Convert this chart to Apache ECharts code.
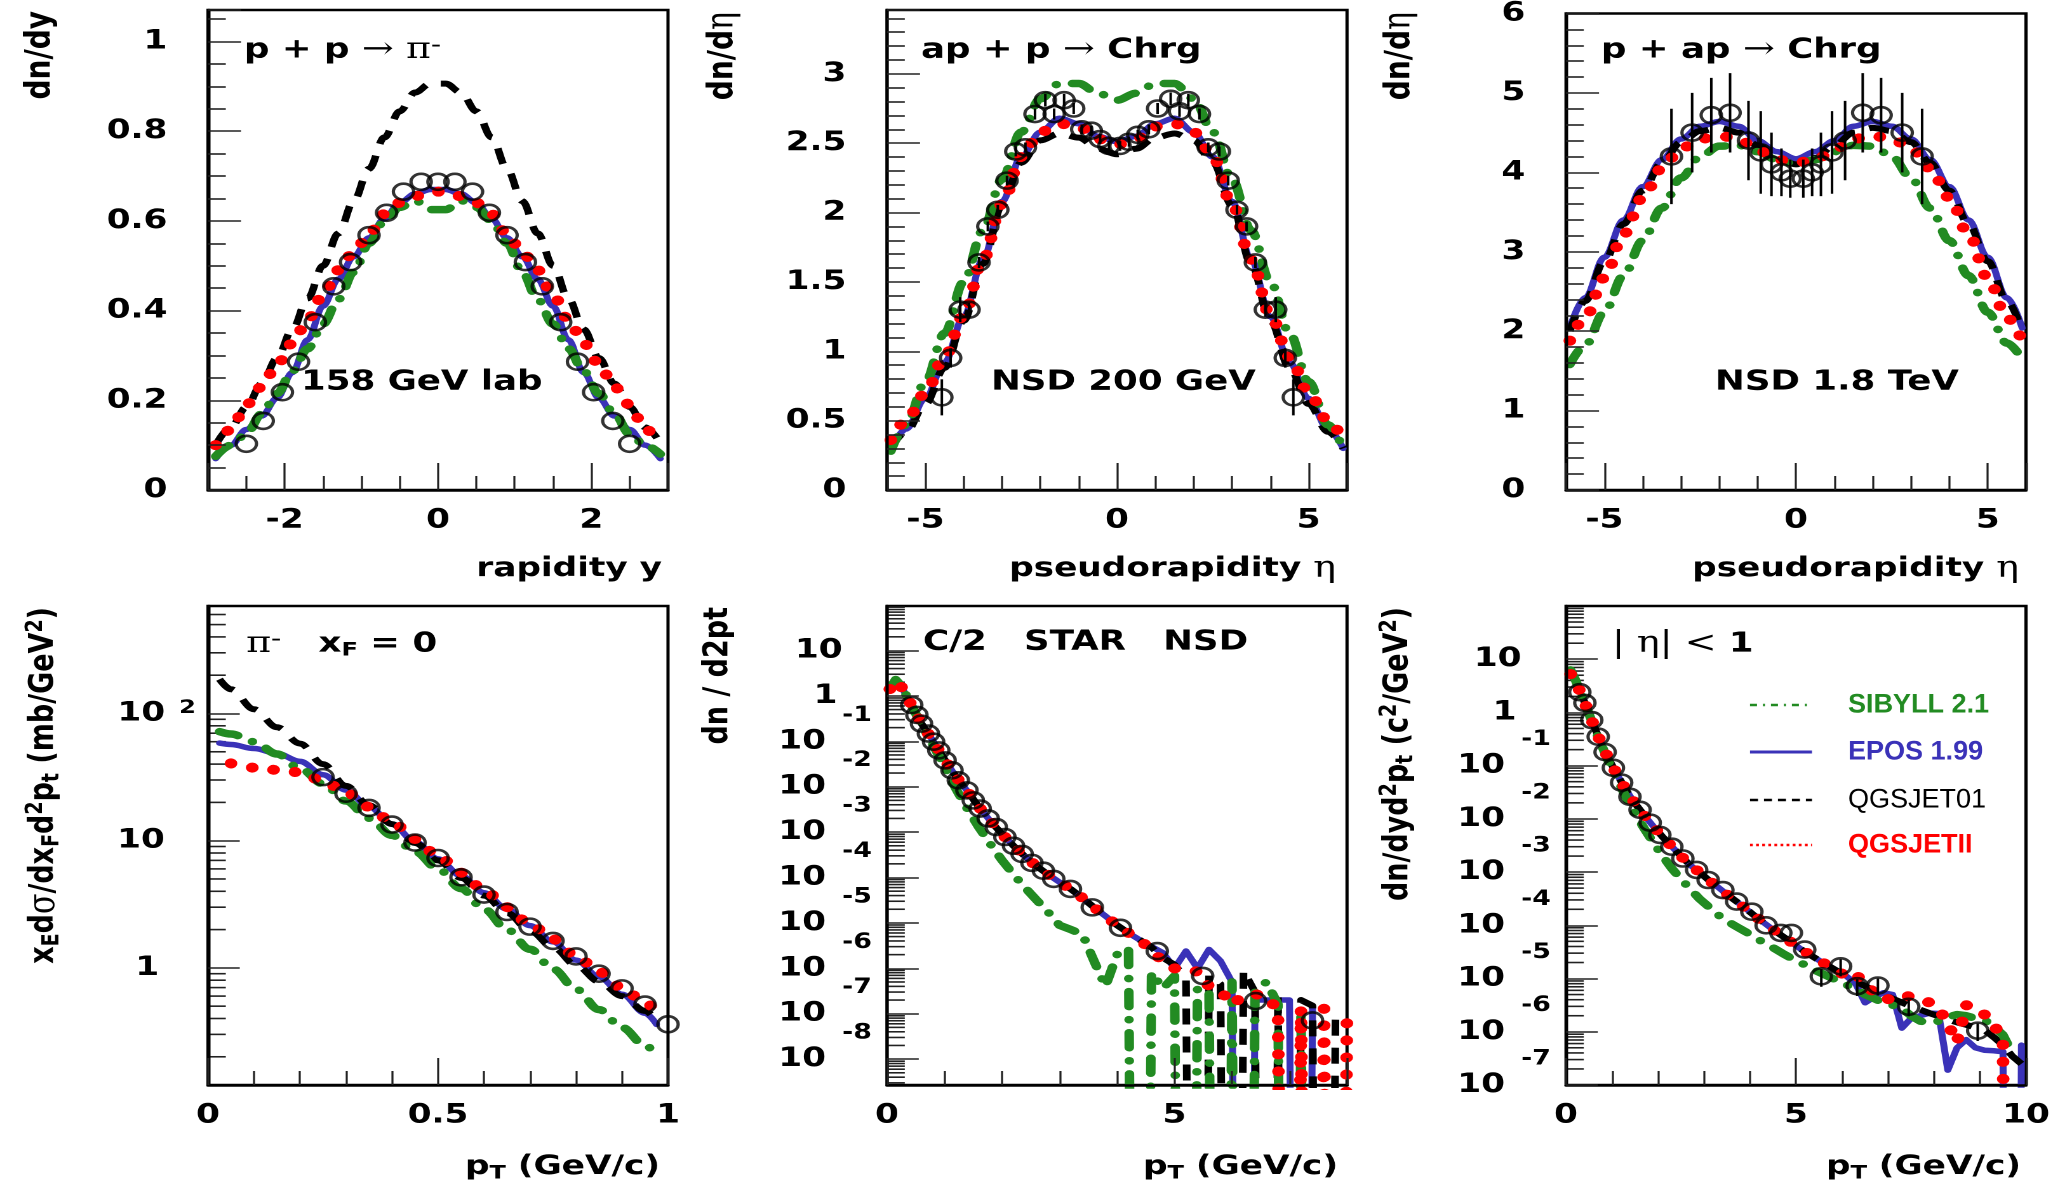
<!DOCTYPE html>
<html><head><meta charset="utf-8">
<script src="https://cdn.jsdelivr.net/npm/echarts@6/dist/echarts.min.js"></script>
<style>
html,body{margin:0;padding:0;background:#fff;overflow:hidden;}
#wrap{width:2056px;height:1186px;overflow:hidden;position:relative;}
#c{height:1186px;transform-origin:0 0;}
</style></head><body><div id="wrap"><div id="c"></div></div>
<script>
// ================= DATA =================
const modelNames = ['SIBYLL 2.1', 'EPOS 1.99', 'QGSJET01', 'QGSJETII'];

// --- Top-left: p + p -> pi-, 158 GeV lab, dn/dy vs rapidity y
const tlDataX = [-2.5,-2.28,-2.03,-1.82,-1.6,-1.36,-1.14,-0.9,-0.67,-0.45,-0.22,0,0.22,0.45,0.67,0.9,1.14,1.36,1.6,1.82,2.03,2.28,2.5];
const tlDataY = [0.103,0.154,0.218,0.286,0.374,0.454,0.508,0.568,0.618,0.665,0.687,0.687,0.687,0.665,0.618,0.568,0.508,0.454,0.374,0.286,0.218,0.154,0.103];
const tlModelX = [-2.9,-2.7,-2.5,-2.3,-2.1,-1.9,-1.7,-1.5,-1.3,-1.1,-0.9,-0.7,-0.5,-0.3,-0.1,0.1,0.3,0.5,0.7,0.9,1.1,1.3,1.5,1.7,1.9,2.1,2.3,2.5,2.7,2.9];
const tlSibyll = [0.075,0.10,0.125,0.17,0.215,0.265,0.315,0.37,0.425,0.485,0.55,0.60,0.63,0.645,0.625,0.625,0.645,0.63,0.60,0.55,0.485,0.425,0.37,0.315,0.265,0.215,0.17,0.125,0.10,0.08];
const tlEpos   = [0.07,0.10,0.135,0.165,0.205,0.262,0.335,0.41,0.47,0.52,0.562,0.605,0.64,0.66,0.67,0.67,0.66,0.64,0.605,0.562,0.52,0.47,0.41,0.335,0.262,0.205,0.165,0.135,0.10,0.07];
const tlQgs01  = [0.10,0.14,0.185,0.237,0.294,0.358,0.427,0.50,0.572,0.644,0.716,0.786,0.844,0.886,0.906,0.906,0.886,0.844,0.786,0.716,0.644,0.572,0.50,0.427,0.358,0.294,0.237,0.185,0.14,0.105];
const tlQgsII  = [0.10,0.135,0.19,0.23,0.28,0.327,0.38,0.435,0.49,0.53,0.57,0.615,0.64,0.655,0.665,0.665,0.655,0.64,0.615,0.57,0.53,0.49,0.435,0.38,0.327,0.28,0.23,0.19,0.135,0.11];

// --- Top-middle: ap + p -> Chrg, NSD 200 GeV, dn/deta
const tmDataX = [-4.57,-4.34,-4.09,-3.86,-3.6,-3.37,-3.11,-2.87,-2.64,-2.39,-2.14,-1.87,-1.64,-1.38,-1.13,-0.92,-0.67,-0.44,-0.21,0.08,0.31,0.54,0.83,1.06,1.4,1.63,1.86,2.15,2.38,2.67,2.9,3.13,3.38,3.61,3.87,4.14,4.39,4.6];
const tmDataY = [0.668,0.952,1.30,1.30,1.64,1.90,2.02,2.23,2.44,2.47,2.71,2.81,2.71,2.81,2.75,2.60,2.59,2.53,2.48,2.48,2.51,2.56,2.60,2.75,2.82,2.73,2.81,2.71,2.47,2.44,2.23,2.02,1.90,1.64,1.30,1.30,0.952,0.668];
const tmDataErr = [0.13,0.07,0.09,0.05,0.04,0.035,0.035,0.035,0.035,0.035,0.04,0.045,0.04,0.045,0.04,0.035,0.035,0.035,0.035,0.035,0.035,0.035,0.035,0.04,0.045,0.04,0.045,0.04,0.035,0.035,0.035,0.035,0.035,0.04,0.05,0.09,0.07,0.13];
const tmModelX = [-5.9,-5.5,-5,-4.5,-4,-3.5,-3,-2.5,-2,-1.5,-1,-0.5,0,0.5,1,1.5,2,2.5,3,3.5,4,4.5,5,5.5,5.9];
const tmSibyll = [0.28,0.47,0.78,1.13,1.50,1.87,2.24,2.58,2.82,2.93,2.93,2.86,2.81,2.86,2.93,2.93,2.82,2.58,2.24,1.87,1.50,1.13,0.78,0.47,0.30];
const tmEpos   = [0.30,0.44,0.66,0.92,1.25,1.66,2.08,2.40,2.58,2.68,2.64,2.55,2.51,2.55,2.64,2.68,2.58,2.40,2.08,1.66,1.25,0.92,0.66,0.44,0.30];
const tmQgs01  = [0.30,0.42,0.62,0.88,1.22,1.63,2.05,2.36,2.52,2.57,2.54,2.46,2.42,2.46,2.54,2.57,2.52,2.36,2.05,1.63,1.22,0.88,0.62,0.42,0.30];
const tmQgsII  = [0.36,0.50,0.70,0.96,1.26,1.66,2.06,2.40,2.58,2.64,2.62,2.53,2.49,2.53,2.62,2.64,2.58,2.40,2.06,1.66,1.26,0.96,0.70,0.50,0.36];

// --- Top-right: p + ap -> Chrg, NSD 1.8 TeV
const trDataX = [-3.25,-2.71,-2.21,-1.72,-1.24,-0.92,-0.64,-0.38,-0.15,0.19,0.42,0.65,0.94,1.28,1.74,2.22,2.77,3.29];
const trDataY = [4.20,4.50,4.72,4.75,4.40,4.25,4.10,4.00,3.92,3.92,4.00,4.10,4.25,4.40,4.75,4.72,4.50,4.20];
const trDataErr = [0.6,0.5,0.47,0.5,0.5,0.52,0.4,0.3,0.24,0.24,0.3,0.4,0.52,0.5,0.5,0.47,0.5,0.6];
const trModelX = [-5.9,-5.5,-5,-4.5,-4,-3.5,-3,-2.5,-2,-1.5,-1,-0.5,0,0.5,1,1.5,2,2.5,3,3.5,4,4.5,5,5.5,5.9];
const trSibyll = [1.58,1.82,2.24,2.70,3.14,3.55,3.93,4.20,4.33,4.34,4.26,4.16,4.10,4.16,4.26,4.34,4.33,4.20,3.93,3.55,3.14,2.70,2.24,1.85,1.65];
const trEpos   = [2.04,2.42,2.93,3.40,3.82,4.16,4.42,4.58,4.64,4.58,4.40,4.26,4.17,4.26,4.40,4.58,4.64,4.58,4.42,4.16,3.82,3.40,2.93,2.42,2.04];
const trQgs01  = [2.00,2.38,2.88,3.35,3.77,4.12,4.38,4.52,4.56,4.50,4.34,4.18,4.10,4.18,4.34,4.50,4.56,4.52,4.38,4.12,3.77,3.35,2.88,2.38,2.00];
const trQgsII  = [1.88,2.17,2.67,3.22,3.68,4.05,4.30,4.42,4.46,4.42,4.28,4.16,4.12,4.16,4.28,4.42,4.46,4.42,4.30,4.05,3.68,3.22,2.67,2.17,1.88];

// --- Bottom-left: pi-, xF = 0, invariant cross section vs pT
const blDataX = [0.25,0.3,0.35,0.4,0.45,0.5,0.55,0.6,0.65,0.7,0.75,0.8,0.85,0.9,0.95,1.0];
const blDataY = [31.6,23.4,18.1,13.4,9.66,7.31,5.15,3.77,2.75,2.11,1.63,1.23,0.90,0.69,0.515,0.36];
const blModelX = [0.025,0.05,0.1,0.15,0.2,0.25,0.3,0.35,0.4,0.45,0.5,0.55,0.6,0.65,0.7,0.75,0.8,0.85,0.9,0.95,0.975];
const blSibyll = [72,69,60,48,37,28,20.5,15,11,8.2,6.0,4.2,2.9,2.0,1.4,0.98,0.68,0.47,0.34,0.245,0.21];
const blEpos   = [58.5,57,53,48.5,42,33,25,18.5,13.5,9.8,7.2,5.3,3.9,2.9,2.15,1.6,1.15,0.85,0.62,0.44,0.36];
const blQgs01  = [186,155,108,78,58,40,27,19,13.5,9.6,7.0,5.1,3.7,2.7,1.95,1.45,1.05,0.78,0.6,0.46,0.38];
const blQgsII  = [null,40.5,37.5,36,34.5,29.5,24,18.5,14,10.3,7.6,5.6,4.1,3.0,2.2,1.68,1.24,0.93,0.7,0.53,0.46];

// --- Bottom-middle: C/2 STAR NSD, dn/d2pt vs pT
const bmDataX = [0.43,0.52,0.6,0.72,0.81,0.9,1.01,1.13,1.24,1.39,1.5,1.62,1.76,1.9,2.05,2.2,2.35,2.52,2.72,2.9,3.19,3.57,4.06,4.7,5.49,6.41,7.4];
const bmDataY = [0.63,0.38,0.245,0.148,0.098,0.063,0.038,0.023,0.0138,0.0083,0.005,0.0033,0.002,0.00129,7.8e-4,5.0e-4,3.3e-4,2.1e-4,1.41e-4,9.3e-5,5.6e-5,2.2e-5,7.8e-6,2.4e-6,6.8e-7,1.9e-7,7.1e-8];
const bmModelX = [0.05,0.15,0.25,0.35,0.45,0.6,0.8,1.0,1.2,1.4,1.6,1.8,2.0,2.2,2.4,2.6,2.8,3.0,3.2,3.4,3.6,3.8,4.0,4.2,4.4,4.6,4.8,5.0,5.2,5.4,5.6,5.8,6.0,6.2,6.4,6.6,6.8,7.0,7.2,7.4,7.6,7.8,8.0];
const bmSibyll = [1.41,2.3,1.66,0.95,0.54,0.23,0.083,0.028,0.0089,0.0032,0.00126,5.4e-4,2.4e-4,1.17e-4,6.0e-5,3.2e-5,1.74e-5,8.9e-6,7.1e-6,5.6e-6,1.45e-6,4.0e-7,2.0e-6,2.75e-6,0,8e-7,3.6e-7,6.8e-7,0,3.5e-7,3.2e-7,0,5e-7,0,3.2e-7,5e-7,1.6e-7,0,1.3e-7,0,null,null,null];
const bmEpos   = [1.41,2.14,1.58,0.95,0.54,0.245,0.102,0.04,0.0166,0.0079,0.00355,0.00174,9.1e-4,5.0e-4,2.9e-4,1.78e-4,1.17e-4,7.9e-5,5.5e-5,3.55e-5,2.2e-5,1.41e-5,8.9e-6,6.0e-6,4.2e-6,3.0e-6,2.2e-6,1.0e-6,2.4e-6,1.0e-6,2.6e-6,1.45e-6,5e-7,0,2.0e-7,2.0e-7,2.0e-7,2.0e-7,0,1.3e-7,null,null,null];
const bmQgs01  = [1.41,2.14,1.58,0.95,0.54,0.245,0.102,0.04,0.0166,0.0079,0.00355,0.00174,9.1e-4,5.0e-4,2.9e-4,1.78e-4,1.17e-4,7.9e-5,5.5e-5,3.55e-5,2.2e-5,1.41e-5,8.9e-6,6.0e-6,4.2e-6,2.9e-6,1.7e-6,1.2e-6,6e-7,0,7e-7,4.5e-7,0,9e-7,3e-7,0,2.5e-7,0,2e-7,1.5e-7,0,1e-7,null];
const bmQgsII  = [1.41,2.14,1.58,0.95,0.54,0.245,0.102,0.04,0.0166,0.0079,0.00355,0.00174,9.1e-4,5.0e-4,2.9e-4,1.78e-4,1.17e-4,7.9e-5,5.5e-5,3.55e-5,2.2e-5,1.41e-5,8.9e-6,6.0e-6,4.2e-6,2.5e-6,1.4e-6,1.0e-6,9e-7,8.5e-7,4e-7,3.2e-7,1.6e-7,2.5e-7,2.7e-7,2.4e-7,1.2e-7,0,1.3e-7,0,1.3e-7,0,1.3e-7];

// --- Bottom-right: |eta| < 1, dn/dyd2pt vs pT
const brDataX = [0.3,0.41,0.56,0.7,0.85,1.03,1.21,1.39,1.61,1.83,2.04,2.3,2.54,2.84,3.09,3.41,3.71,4.04,4.35,4.67,4.9,5.19,5.55,5.97,6.33,6.78,7.45,8.95];
const brDataY = [2.4,1.51,0.72,0.35,0.18,0.091,0.048,0.026,0.0148,0.0085,0.005,0.003,0.0018,0.0011,7.1e-4,4.6e-4,2.8e-4,1.8e-4,1.0e-4,7.2e-5,7.2e-5,3.5e-5,1.1e-5,1.7e-5,7.2e-6,7.4e-6,2.95e-6,1.05e-6];
const brDataErr = [0,0,0,0,0,0,0,0,0,0,0,0,0,0,0,0,0,0,0,0,0,0,4e-6,6e-6,2.5e-6,2.6e-6,1.0e-6,3.8e-7];
const brModelX = [0.1,0.2,0.3,0.4,0.5,0.7,0.9,1.1,1.3,1.5,1.7,1.9,2.1,2.3,2.5,2.7,2.9,3.1,3.3,3.5,3.7,3.9,4.1,4.3,4.5,4.7,4.9,5.1,5.3,5.5,5.7,5.9,6.1,6.3,6.5,6.7,6.9,7.1,7.3,7.5,7.7,7.9,8.1,8.3,8.5,8.7,8.9,9.1,9.3,9.5,9.7,9.9];
const brSibyll = [6.3,4.17,2.51,1.58,0.93,0.34,0.135,0.06,0.026,0.0126,0.0066,0.00355,0.002,0.00117,7.4e-4,4.8e-4,3.16e-4,2.24e-4,1.58e-4,1.2e-4,9.5e-5,7.6e-5,6.0e-5,4.7e-5,3.8e-5,3.0e-5,2.4e-5,2.0e-5,1.58e-5,1.32e-5,1.1e-5,9.1e-6,7.6e-6,6.3e-6,5.0e-6,4.2e-6,3.5e-6,3.16e-6,2.75e-6,2.0e-6,1.58e-6,1.51e-6,1.58e-6,1.9e-6,2.1e-6,2.0e-6,1.78e-6,1.66e-6,1.26e-6,8.7e-7,4.0e-7,null];
const brEpos   = [5.25,3.98,2.51,1.58,0.955,0.355,0.148,0.0708,0.0355,0.0195,0.0117,0.00724,0.00457,0.00302,0.002,0.00135,0.001,7.08e-4,5.25e-4,3.8e-4,2.82e-4,2.09e-4,1.51e-4,1.12e-4,8.3e-5,6.3e-5,4.8e-5,3.6e-5,2.8e-5,2.2e-5,1.74e-5,1.38e-5,1.1e-5,7.9e-6,3.5e-6,4.5e-6,5.4e-6,5.0e-6,1.17e-6,1.78e-6,2.0e-6,2.24e-6,2.2e-6,1.9e-7,5.0e-7,7.1e-7,5.0e-7,4.5e-7,4.4e-7,4.2e-7,0,5.6e-7];
const brQgs01  = [5.25,3.98,2.51,1.58,0.955,0.355,0.148,0.0708,0.0355,0.0195,0.0117,0.00724,0.00457,0.00302,0.002,0.00135,0.001,7.08e-4,5.25e-4,3.8e-4,2.82e-4,2.09e-4,1.51e-4,1.12e-4,8.3e-5,6.3e-5,4.8e-5,3.6e-5,2.8e-5,2.2e-5,1.74e-5,1.38e-5,1.1e-5,8.9e-6,7.2e-6,6.0e-6,5.0e-6,4.2e-6,3.55e-6,3.0e-6,2.6e-6,2.24e-6,1.95e-6,1.7e-6,1.5e-6,1.35e-6,1.2e-6,1.07e-6,7.9e-7,5.6e-7,3.5e-7,2.5e-7];
const brQgsII  = [5.25,3.98,2.51,1.58,0.955,0.355,0.148,0.0708,0.0355,0.0195,0.0117,0.00724,0.00457,0.00302,0.002,0.00135,0.001,7.08e-4,5.25e-4,3.8e-4,2.82e-4,2.09e-4,1.51e-4,1.12e-4,8.3e-5,6.3e-5,4.8e-5,3.6e-5,2.8e-5,2.2e-5,1.74e-5,1.38e-5,1.1e-5,1.26e-5,7.1e-6,5.6e-6,4.0e-6,4.2e-6,5.0e-6,4.5e-6,4.0e-6,3.55e-6,2.8e-6,1.41e-6,6.3e-7,3.16e-6,2.8e-6,2.1e-6,1.41e-6,6.3e-7,0,null];

// ================= LAYOUT / STYLE =================
const S = 1.27;                 // horizontal stretch of the whole figure
const W0 = 2056 / S;
const X = v => v / S;           // full-width pixel -> layout pixel
const FONT = 'DejaVu Sans';
const SERIF = 'DejaVu Serif';
const TICK = '#222';
const ZERO = -40;               // log10 stand-in for empty bins (drawn off the bottom)
const C_SIB = '#228b22', C_EPOS = '#3a32b8', C_Q01 = '#000000', C_Q2 = '#ff0000';

document.getElementById('c').style.width = W0 + 'px';
document.getElementById('c').style.transform = 'scaleX(' + S + ')';

const colsL = [208, 887, 1566];
const rows = [{top: 10, h: 480}, {top: 606, h: 479}];
const grids = [];
for (let r = 0; r < 2; r++) for (let c = 0; c < 3; c++) {
  grids.push({left: X(colsL[c]), top: rows[r].top, width: X(460), height: rows[r].h,
    show: true, borderColor: '#000', borderWidth: 2.5, backgroundColor: 'transparent', containLabel: false});
}

const labelBase = {color: '#000', fontFamily: FONT, fontWeight: 'bold', fontSize: 27};
const axLine = {show: true, onZero: false, lineStyle: {color: '#000', width: 2.5}};

function xAx(gi, o) {
  return {type: 'value', gridIndex: gi, position: 'bottom', min: o.min, max: o.max, interval: o.interval, splitNumber: o.split,
    axisLine: axLine, splitLine: {show: false}, z: 10,
    axisTick: {show: true, inside: true, length: 27, lineStyle: {color: TICK, width: 1.6}},
    minorTick: {show: true, splitNumber: o.minor, length: 14, lineStyle: {color: TICK, width: 1.6}},
    axisLabel: Object.assign({margin: 17, showMinLabel: o.showMin, showMaxLabel: o.showMax}, labelBase)};
}
function yLin(gi, o) {
  return {type: 'value', gridIndex: gi, position: 'left', min: o.min, max: o.max, interval: o.interval, splitNumber: o.split,
    axisLine: axLine, splitLine: {show: false}, z: 10,
    axisTick: {show: true, inside: true, length: 26, lineStyle: {color: TICK, width: 1.6}},
    minorTick: {show: true, splitNumber: o.minor, length: 14, lineStyle: {color: TICK, width: 1.6}},
    axisLabel: Object.assign({margin: 32, showMinLabel: o.showMin, showMaxLabel: o.showMax}, labelBase)};
}
const rb = (pr) => ({fontFamily: FONT, fontWeight: 'bold', fontSize: 27, lineHeight: 30, color: '#000', padding: [0, pr, 0, 0]});
function yLog(gi, o) {
  return {type: 'value', gridIndex: gi, position: 'left', min: o.min, max: o.max, interval: o.interval, splitNumber: o.split,
    axisLine: axLine, splitLine: {show: false}, z: 10,
    axisTick: {show: true, inside: true, length: 25, lineStyle: {color: TICK, width: 1.6}},
    minorTick: {show: false},
    axisLabel: {margin: o.margin, showMinLabel: o.showMin, showMaxLabel: o.showMax, color: '#000',
      fontFamily: FONT, fontWeight: 'bold', fontSize: 27, formatter: o.fmt,
      rich: {
        e: {fontFamily: FONT, fontWeight: 'bold', fontSize: 21, lineHeight: 22, color: '#000'},
        s: {fontSize: 10, lineHeight: 22},
        bn: rb(36), p1: rb(27), p10: rb(23),
        b: rb(0), b10: rb(24.5), b1: rb(29),
        e2: {fontFamily: FONT, fontWeight: 'bold', fontSize: 19, lineHeight: 4, verticalAlign: 'top', color: '#000', padding: [0, 0, 0, 11]}
      }}};
}
const fmtBL = v => { const n = Math.round(v); if (n === 2) return '{b|10}{e2|2}'; if (n === 1) return '{b10|10}'; if (n === 0) return '{b1|1}'; return ''; };
const fmtExp = v => { const n = Math.round(v); if (n === 1) return '{p10|10}'; if (n === 0) return '{p1|1}'; if (n < 0) return '{e|' + n + '}\n{bn|10}\n{s| }'; return ''; };

const lg = Math.log10;
const xAxes = [
  xAx(0, {min: -3, max: 3, split: 3, minor: 4, showMin: false, showMax: false}),
  xAx(1, {min: -6, max: 6, split: 2, minor: 5, showMin: false, showMax: false}),
  xAx(2, {min: -6, max: 6, split: 2, minor: 5, showMin: false, showMax: false}),
  xAx(3, {min: 0, max: 1, interval: 0.5, minor: 5, showMin: true, showMax: true}),
  xAx(4, {min: 0, max: 8, interval: 5, minor: 5, showMin: true, showMax: false}),
  xAx(5, {min: 0, max: 10, interval: 5, minor: 5, showMin: true, showMax: true})
];
const yRanges = [[0, 1.07], [0, 3.46], [0, 6], [lg(0.12), lg(700)], [-8.57, 1.98], [-7.0005, 2]];
const yAxes = [
  yLin(0, {min: 0, max: 1.07, interval: 0.2, minor: 4, showMin: true, showMax: false}),
  yLin(1, {min: 0, max: 3.46, interval: 0.5, minor: 5, showMin: true, showMax: false}),
  yLin(2, {min: 0, max: 6, interval: 1, minor: 5, showMin: true, showMax: true}),
  yLog(3, {min: yRanges[3][0], max: yRanges[3][1], split: 4, margin: 9.5, showMin: false, showMax: false, fmt: fmtBL}),
  yLog(4, {min: yRanges[4][0], max: yRanges[4][1], split: 10, margin: 12, showMin: false, showMax: false, fmt: fmtExp}),
  yLog(5, {min: yRanges[5][0], max: yRanges[5][1], split: 9, margin: 12, showMin: false, showMax: false, fmt: fmtExp})
];

// ================= SERIES =================
function tv(v, log) { if (v === null || v === undefined) return '-'; if (!log) return v; return v > 0 ? lg(v) : ZERO; }
const STY = [
  {color: C_SIB, width: 7.5, type: [15, 13, 0.1, 13], cap: 'round', join: 'round', z: 4},
  {color: C_EPOS, width: 5.5, type: 'solid', cap: 'round', join: 'round', z: 2},
  {color: C_Q01, width: 6, type: [16, 12], cap: 'butt', join: 'round', z: 3},
  {color: C_Q2, width: 10, type: [0.1, 17], cap: 'round', join: 'round', z: 5}
];
const series = [];
function addModels(gi, xs, arrs, log, smooth) {
  arrs.forEach((ys, k) => {
    const st = STY[k];
    series.push({type: 'line', name: modelNames[k], xAxisIndex: gi, yAxisIndex: gi,
      data: xs.map((x, i) => [x, tv(ys[i], log)]), symbol: 'none', showSymbol: false,
      smooth: smooth ? 0.35 : false, smoothMonotone: smooth ? 'x' : undefined, clip: true, silent: true, z: st.z,
      lineStyle: {color: st.color, width: st.width, type: st.type, cap: st.cap, join: st.join}});
  });
}
function addData(gi, xs, ys, errs, log) {
  if (errs) {
    const eb = [];
    xs.forEach((x, i) => { if (errs[i] > 0) eb.push([x, tv(ys[i] - errs[i], log), tv(ys[i] + errs[i], log)]); });
    series.push({type: 'custom', xAxisIndex: gi, yAxisIndex: gi, silent: true, z: 6, data: eb,
      renderItem: (p, api) => {
        const a = api.coord([api.value(0), api.value(1)]), b = api.coord([api.value(0), api.value(2)]);
        return {type: 'line', shape: {x1: a[0], y1: a[1], x2: b[0], y2: b[1]}, style: {stroke: '#000', lineWidth: 2}};
      }});
  }
  series.push({type: 'scatter', xAxisIndex: gi, yAxisIndex: gi, silent: true, z: 7, clip: true,
    data: xs.map((x, i) => [x, tv(ys[i], log)]), symbol: 'circle', symbolSize: 16,
    itemStyle: {color: 'rgba(255,255,255,0)', borderColor: '#000', borderWidth: 2.6}});
}
function addLogMinor(gi, xmin) {
  const [a, b] = yRanges[gi], vals = [];
  for (let k = Math.floor(a); k <= Math.ceil(b); k++) for (let m = 2; m <= 9; m++) {
    const v = k + lg(m); if (v > a && v < b) vals.push([xmin, v]);
  }
  series.push({type: 'custom', xAxisIndex: gi, yAxisIndex: gi, silent: true, z: 1, data: vals,
    renderItem: (p, api) => { const c = api.coord([api.value(0), api.value(1)]);
      return {type: 'line', shape: {x1: c[0], y1: c[1], x2: c[0] + 14, y2: c[1]}, style: {stroke: TICK, lineWidth: 1.6}}; }});
}

addModels(0, tlModelX, [tlSibyll, tlEpos, tlQgs01, tlQgsII], false, true);
addData(0, tlDataX, tlDataY, null, false);
addModels(1, tmModelX, [tmSibyll, tmEpos, tmQgs01, tmQgsII], false, true);
addData(1, tmDataX, tmDataY, tmDataErr, false);
addModels(2, trModelX, [trSibyll, trEpos, trQgs01, trQgsII], false, true);
addData(2, trDataX, trDataY, trDataErr, false);
addModels(3, blModelX, [blSibyll, blEpos, blQgs01, blQgsII], true, true);
addData(3, blDataX, blDataY, null, true);
addLogMinor(3, 0);
addModels(4, bmModelX, [bmSibyll, bmEpos, bmQgs01, bmQgsII], true, false);
addData(4, bmDataX, bmDataY, null, true);
addLogMinor(4, 0);
addModels(5, brModelX, [brSibyll, brEpos, brQgs01, brQgsII], true, false);
addData(5, brDataX, brDataY, brDataErr, true);
addLogMinor(5, 0);

// ================= TEXT =================
const R = {
  b: {fontFamily: FONT, fontWeight: 'bold', fontSize: 28, lineHeight: 32, fill: '#000'},
  t: {fontFamily: FONT, fontWeight: 'bold', fontSize: 27, lineHeight: 32, fill: '#000'},
  y: {fontFamily: FONT, fontWeight: 'bold', fontSize: 28, lineHeight: 32, fill: '#000'},
  g: {fontFamily: SERIF, fontWeight: 'normal', fontSize: 30, lineHeight: 32, fill: '#000'},
  sup: {fontFamily: FONT, fontWeight: 'bold', fontSize: 19, lineHeight: 6, verticalAlign: 'top', fill: '#000'},
  supg: {fontFamily: SERIF, fontWeight: 'normal', fontSize: 24, lineHeight: 0, verticalAlign: 'top', fill: '#000'},
  sub: {fontFamily: FONT, fontWeight: 'bold', fontSize: 19, lineHeight: 12, verticalAlign: 'bottom', fill: '#000'}
};
function T(xf, y, text, o) {
  o = o || {};
  return {type: 'text', x: X(xf), y: y, z: 100, rotation: o.rot || 0, scaleX: o.sx || 1, silent: true,
    style: {text: text, rich: o.rich || R, align: o.align || 'left', verticalAlign: 'middle',
      textAlign: o.align || 'left', textVerticalAlign: 'middle', fill: o.fill || '#000'}};
}
const ROT = Math.PI / 2;
const graphics = [
  // annotations
  T(244, 50, '{b|p + p }{g|\u2192 \u03c0}{supg|-}'),
  T(301, 382, '{b|158 GeV lab}'),
  T(921, 50, '{b|ap + p }{g|\u2192}{b| Chrg}'),
  T(991, 382, '{b|NSD 200 GeV}'),
  T(1601, 50, '{b|p + ap }{g|\u2192}{b| Chrg}'),
  T(1715, 382, '{b|NSD 1.8 TeV}'),
  T(246, 644, '{g|\u03c0}{supg|-}{b|   x}{sub|F}{b| = 0}'),
  T(923, 642, '{b|C/2   STAR   NSD}'),
  T(1612, 644, '{g|| \u03b7| < }{b|1}'),
  // x titles
  T(662, 569, '{t|rapidity y}', {align: 'right'}),
  T(1336, 569, '{t|pseudorapidity }{g|\u03b7}', {align: 'right'}),
  T(2019, 569, '{t|pseudorapidity }{g|\u03b7}', {align: 'right'}),
  T(660, 1167, '{t|p}{sub|T}{t| (GeV/c)}', {align: 'right'}),
  T(1338, 1167, '{t|p}{sub|T}{t| (GeV/c)}', {align: 'right'}),
  T(2021, 1167, '{t|p}{sub|T}{t| (GeV/c)}', {align: 'right'}),
  // y titles (rotated)
  T(40, 11, '{y|dn/dy}', {align: 'right', rot: ROT}),
  T(723, 12, '{y|dn/d}{g|\u03b7}', {align: 'right', rot: ROT}),
  T(1400, 12, '{y|dn/d}{g|\u03b7}', {align: 'right', rot: ROT}),
  T(44, 607, '{t|x}{sub|E}{t|d}{g|\u03c3}{t|/dx}{sub|F}{t|d}{sup|2}{t|p}{sub|t}{t| (mb/GeV}{sup|2}{t|)}', {align: 'right', rot: ROT}),
  T(718, 607, '{t|dn / d2pt}', {align: 'right', rot: ROT}),
  T(1398, 607, '{t|dn/dyd}{sup|2}{t|p}{sub|t}{t| (c}{sup|2}{t|/GeV}{sup|2}{t|)}', {align: 'right', rot: ROT})
];
// legend (inside bottom-right panel)
const legendRows = [
  {y: 705, color: C_SIB, dash: [5.5, 4.7, 1.6, 4.7], w: 2.6, weight: 'bold'},
  {y: 752, color: C_EPOS, dash: null, w: 3, weight: 'bold'},
  {y: 800, color: C_Q01, dash: [6.3, 4.7], w: 2.6, weight: 'normal'},
  {y: 845, color: C_Q2, dash: [2.2, 2.6], w: 2.6, weight: 'bold'}
];
legendRows.forEach((r, k) => {
  graphics.push({type: 'line', z: 100, silent: true, shape: {x1: X(1750), y1: r.y, x2: X(1812), y2: r.y},
    style: {stroke: r.color, lineWidth: r.w, lineDash: r.dash || null}});
  graphics.push({type: 'text', z: 100, silent: true, x: X(1848), y: r.y, scaleX: 1 / S,
    style: {text: modelNames[k], fill: r.color, font: r.weight + ' 27px "Liberation Sans"',
      align: 'left', verticalAlign: 'middle', textAlign: 'left', textVerticalAlign: 'middle'}});
});

const chart = echarts.init(document.getElementById('c'), null, {renderer: 'canvas', devicePixelRatio: 2});
chart.setOption({
  animation: false, backgroundColor: '#fff',
  textStyle: {fontFamily: FONT},
  grid: grids, xAxis: xAxes, yAxis: yAxes, series: series, graphic: graphics
});
</script></body></html>
